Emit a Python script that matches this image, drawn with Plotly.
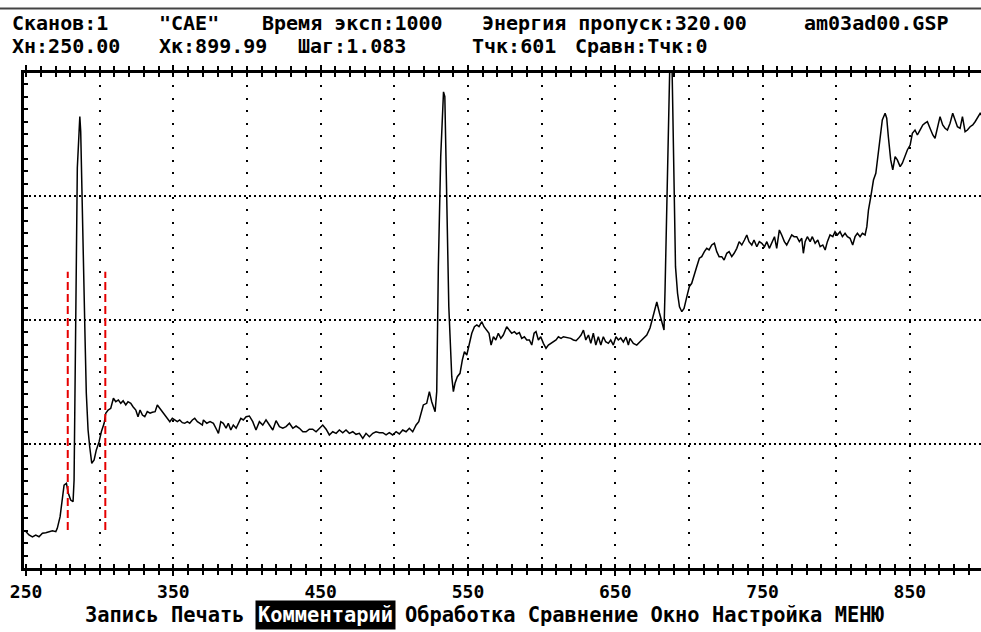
import plotly.graph_objects as go

# ---------------- data ----------------
energy = [
    250.0, 252.0, 254.3, 256.6, 258.8, 261.1, 263.4, 265.6, 267.9, 270.2,
    271.2, 273.1, 274.6, 275.8, 277.4, 278.7, 280.3, 281.9, 282.6, 283.1,
    284.1, 284.8, 286.0, 286.5, 287.1, 287.8, 288.9, 290.1, 290.9, 292.1,
    293.2, 294.6, 296.2, 297.7, 299.6, 301.1, 303.0, 304.1, 305.7, 307.5,
    309.3, 310.9, 312.7, 314.3, 315.9, 317.7, 319.2, 321.1, 322.6, 324.5,
    326.0, 327.4, 329.0, 330.6, 332.3, 334.2, 335.7, 337.6, 339.1, 340.8,
    342.5, 344.4, 345.9, 347.6, 349.3, 351.0, 352.7, 354.3, 356.1, 357.7,
    359.5, 361.1, 362.9, 364.5, 366.3, 368.1, 369.7, 370.4, 372.7, 374.9,
    377.2, 379.5, 380.6, 382.2, 383.9, 385.8, 387.3, 389.0, 390.7, 392.6,
    394.1, 395.8, 397.5, 399.4, 401.6, 403.9, 406.1, 408.4, 410.7, 412.9,
    415.2, 417.5, 419.7, 422.0, 424.3, 426.5, 428.8, 431.1, 433.3, 435.6,
    437.9, 440.1, 442.3, 444.6, 446.9, 449.1, 451.4, 453.7, 455.9, 458.2,
    460.5, 462.7, 465.0, 467.2, 469.5, 471.8, 474.0, 476.3, 478.6, 480.8,
    483.1, 485.4, 487.6, 489.9, 492.2, 494.4, 496.6, 498.9, 501.2, 503.4,
    505.7, 508.0, 510.2, 512.5, 514.8, 516.6, 518.2, 519.7, 522.0, 523.8,
    525.4, 527.7, 528.8, 529.9, 531.5, 532.9, 533.4, 534.3, 535.1, 536.0,
    537.0, 537.9, 539.0, 540.1, 541.2, 542.8, 544.6, 546.2, 547.6, 549.2,
    550.8, 552.6, 554.4, 556.0, 557.5, 559.4, 560.9, 562.8, 564.3, 565.7,
    567.3, 568.9, 570.6, 572.3, 574.0, 576.3, 578.1, 579.7, 581.5, 583.1,
    584.9, 586.5, 588.3, 589.9, 591.7, 593.3, 594.9, 596.2, 597.8, 599.4,
    601.2, 603.0, 604.6, 606.4, 608.0, 609.8, 611.4, 613.2, 614.8, 616.6,
    618.2, 619.8, 621.6, 623.4, 625.0, 626.8, 628.4, 630.0, 631.8, 633.4,
    635.1, 636.8, 638.5, 640.2, 641.9, 643.5, 645.3, 646.9, 648.7, 650.5,
    652.1, 653.7, 655.5, 657.3, 658.9, 660.0, 662.3, 664.6, 666.8, 669.1,
    671.4, 673.6, 675.9, 678.2, 680.0, 681.6, 683.1, 683.8, 685.0, 686.1,
    687.2, 688.4, 689.1, 690.0, 690.9, 692.3, 693.6, 695.2, 696.7, 698.6,
    700.3, 701.9, 703.7, 705.3, 707.1, 708.7, 710.5, 712.1, 713.7, 715.5,
    717.3, 718.9, 720.5, 722.3, 723.9, 725.7, 727.3, 729.1, 730.7, 732.5,
    734.1, 735.9, 737.7, 739.3, 740.8, 742.7, 744.2, 746.1, 747.8, 749.5,
    751.3, 752.9, 754.6, 756.3, 758.1, 759.6, 761.4, 763.0, 764.8, 766.4,
    768.2, 769.8, 771.4, 773.2, 775.0, 776.6, 777.7, 778.9, 780.4, 782.3,
    783.8, 785.7, 787.5, 789.1, 790.9, 792.5, 794.0, 795.8, 797.7, 799.2,
    800.8, 802.6, 804.2, 806.0, 807.6, 809.4, 811.2, 812.8, 814.4, 816.2,
    817.8, 819.6, 820.8, 821.9, 823.5, 825.3, 826.9, 828.2, 829.8, 831.3,
    833.2, 834.3, 835.4, 837.0, 838.4, 840.0, 841.5, 843.4, 844.9, 846.8,
    848.3, 850.2, 851.7, 853.5, 855.1, 856.9, 858.8, 860.3, 861.9, 863.7,
    865.6, 867.1, 868.7, 870.5, 872.3, 873.9, 875.5, 877.3, 879.1, 880.7,
    882.3, 884.1, 885.7, 887.5, 889.1, 890.9, 892.7, 894.3, 895.9, 897.7,
    899.99,
]
intensity = [
    293, 266, 250, 266, 252, 280, 285, 293, 301, 293,
    320, 414, 548, 669, 683, 602, 548, 535, 710, 1274,
    2242, 3226, 3519, 3640, 3519, 3049, 2403, 1825, 1409, 1113,
    978, 844, 871, 952, 1019, 1099, 1167, 1248, 1274, 1288,
    1369, 1341, 1355, 1328, 1349, 1315, 1341, 1328, 1301, 1274,
    1220, 1274, 1234, 1220, 1261, 1248, 1256, 1261, 1315, 1288,
    1261, 1234, 1207, 1180, 1207, 1194, 1180, 1194, 1172, 1167,
    1180, 1167, 1194, 1207, 1180, 1167, 1153, 1194, 1167, 1180,
    1167, 1113, 1086, 1180, 1167, 1127, 1167, 1113, 1153, 1127,
    1167, 1207, 1194, 1220, 1226, 1180, 1113, 1180, 1153, 1194,
    1153, 1113, 1188, 1140, 1127, 1140, 1167, 1127, 1145, 1127,
    1099, 1099, 1119, 1119, 1099, 1127, 1153, 1119, 1073, 1099,
    1086, 1113, 1091, 1113, 1086, 1099, 1078, 1086, 1046, 1086,
    1059, 1086, 1099, 1091, 1091, 1073, 1091, 1073, 1099, 1081,
    1113, 1099, 1127, 1099, 1153, 1180, 1248, 1315, 1328, 1422,
    1341, 1261, 1422, 2430, 3317, 3801, 3840, 3801, 3411, 2726,
    2107, 1785, 1543, 1422, 1490, 1543, 1570, 1678, 1744, 1718,
    1812, 1893, 1946, 1960, 1946, 1986, 1946, 1919, 1893, 1798,
    1865, 1839, 1893, 1852, 1879, 1946, 1919, 1893, 1906, 1887,
    1898, 1852, 1865, 1839, 1839, 1798, 1893, 1906, 1839, 1865,
    1812, 1772, 1798, 1812, 1825, 1839, 1865, 1852, 1865, 1861,
    1852, 1852, 1839, 1833, 1852, 1879, 1919, 1839, 1879, 1812,
    1893, 1798, 1865, 1798, 1865, 1825, 1812, 1839, 1798, 1865,
    1839, 1855, 1823, 1863, 1798, 1852, 1812, 1798, 1825, 1852,
    1879, 1936, 2040, 2145, 2057, 1976, 1919, 2242, 2968, 3828,
    4150, 4150, 3613, 2968, 2430, 2215, 2107, 2067, 2094, 2188,
    2269, 2296, 2377, 2430, 2498, 2511, 2551, 2578, 2565, 2605,
    2619, 2551, 2511, 2511, 2484, 2538, 2551, 2511, 2538, 2578,
    2632, 2605, 2645, 2686, 2632, 2605, 2645, 2591, 2632, 2619,
    2591, 2632, 2578, 2632, 2672, 2578, 2726, 2686, 2632, 2605,
    2645, 2686, 2672, 2672, 2632, 2659, 2538, 2632, 2672, 2632,
    2672, 2619, 2645, 2591, 2605, 2565, 2632, 2686, 2672, 2712,
    2686, 2712, 2672, 2699, 2672, 2659, 2605, 2672, 2699, 2672,
    2699, 2686, 2753, 2887, 2995, 3129, 3183, 3317, 3506, 3613,
    3667, 3627, 3478, 3291, 3210, 3317, 3291, 3237, 3264, 3331,
    3371, 3411, 3506, 3532, 3492, 3532, 3573, 3587, 3599, 3546,
    3492, 3466, 3559, 3640, 3573, 3546, 3532, 3587, 3667, 3613,
    3559, 3546, 3640, 3519, 3532, 3559, 3573, 3599, 3627, 3667,
    3630,
]

cursor_x = [278.3, 303.8]          # red dashed markers
cursor_y = [306, 2390]

x_range = [248.6, 898.3]
y_range = [0, 3992]
tick_vals = [250, 350, 450, 550, 650, 750, 850]
grid_vals = [300, 350, 400, 450, 500, 550, 600, 650, 700, 750, 800, 850]
hgrid_vals = [1000, 2000, 3000]

header_row1 = [("Сканов:1", 10), ('"CAE"', 157), ("Время эксп:1000", 260),
               ("Энергия пропуск:320.00", 480), ("am03ad00.GSP", 802)]
header_row2 = [("Хн:250.00", 10), ("Хк:899.99", 157), ("Шаг:1.083", 296),
               ("Тчк:601", 470), ("Сравн:Тчк:0", 573)]
menu_left = "Запись Печать"
menu_sel = "Комментарий"
menu_right = "Обработка Сравнение Окно Настройка МЕНЮ"

# ---------------- figure ----------------
W, H = 981, 632
L, R, T, B = 24, 0, 73, 64
PW, PH = W - L - R, H - T - B


def px_x(px):
    return (px - L) / PW


def px_y(py):
    return (H - B - py) / PH


MONO = "DejaVu Sans Mono"

fig = go.Figure()

cx, cy = [], []
for xv in cursor_x:
    cx += [xv, xv, None]
    cy += [cursor_y[0], cursor_y[1], None]
fig.add_trace(go.Scatter(x=cx, y=cy, mode="lines", xaxis="x2", yaxis="y",
                         line=dict(color="#e60000", width=2, dash="8px,4px"),
                         hoverinfo="skip"))
fig.add_trace(go.Scatter(x=energy, y=intensity, mode="lines",
                         line=dict(color="black", width=1.5),
                         hoverinfo="skip"))

fig.update_layout(
    width=W, height=H,
    margin=dict(l=L, r=R, t=T, b=B, pad=0),
    paper_bgcolor="white", plot_bgcolor="white",
    showlegend=False,
    xaxis=dict(
        range=x_range, showline=True, linewidth=3, linecolor="black",
        mirror="ticks", ticks="outside", ticklen=5, tickwidth=2, tickcolor="black",
        tickmode="array", tickvals=tick_vals, ticktext=[str(v) for v in tick_vals],
        tickfont=dict(family=MONO, size=18, color="black", weight="bold"),
        minor=dict(tick0=250, dtick=10, ticks="outside", ticklen=4, tickwidth=2,
                   tickcolor="black", showgrid=False),
        showgrid=False, zeroline=False, fixedrange=True,
    ),
    xaxis2=dict(
        overlaying="x", anchor="y", side="bottom", range=x_range,
        showline=True, linewidth=3, linecolor="black", mirror="ticks",
        tickmode="array", tickvals=grid_vals, ticks="inside", ticklen=4,
        tickwidth=2, tickcolor="black", showticklabels=False,
        minor=dict(tick0=250, dtick=10, ticks="inside", ticklen=4, tickwidth=2,
                   tickcolor="black", showgrid=False),
        showgrid=True, gridcolor="black", gridwidth=2, griddash="2px,10.4px",
        zeroline=False, fixedrange=True,
    ),
    yaxis=dict(
        range=y_range, showline=True, linewidth=3, linecolor="black",
        mirror=False, ticks="inside", ticklen=4, tickwidth=2, tickcolor="black",
        tickmode="array", tickvals=hgrid_vals, showticklabels=False,
        minor=dict(tick0=0, dtick=100, ticks="inside", ticklen=4, tickwidth=2,
                   tickcolor="black", showgrid=False),
        showgrid=True, gridcolor="black", gridwidth=2, griddash="2px,3px",
        zeroline=False, fixedrange=True,
    ),
)

annotations = []
for row, py in ((header_row1, 23), (header_row2, 46)):
    for text, px in row:
        annotations.append(dict(
            text=text, x=px_x(px), y=px_y(py), xref="paper", yref="paper",
            xanchor="left", yanchor="middle", showarrow=False,
            font=dict(family=MONO, size=20, color="black", weight="bold")))

menu_font = dict(family=MONO, size=20.4, color="black", weight="bold")
annotations.append(dict(text=menu_left, x=px_x(83), y=px_y(615), xref="paper",
                        yref="paper", xanchor="left", yanchor="middle",
                        showarrow=False, font=menu_font))
annotations.append(dict(text=menu_sel, x=px_x(255), y=px_y(615), xref="paper",
                        yref="paper", xanchor="left", yanchor="middle",
                        showarrow=False, bgcolor="black", borderpad=2,
                        font=dict(family=MONO, size=20.4, color="white", weight="bold")))
annotations.append(dict(text=menu_right, x=px_x(403), y=px_y(615), xref="paper",
                        yref="paper", xanchor="left", yanchor="middle",
                        showarrow=False, font=menu_font))
fig.update_layout(annotations=annotations)

fig.add_shape(type="line", xref="paper", yref="paper",
              x0=px_x(0), x1=px_x(W), y0=px_y(8.5), y1=px_y(8.5),
              line=dict(color="#444444", width=2))

fig.write_html("out.html")
